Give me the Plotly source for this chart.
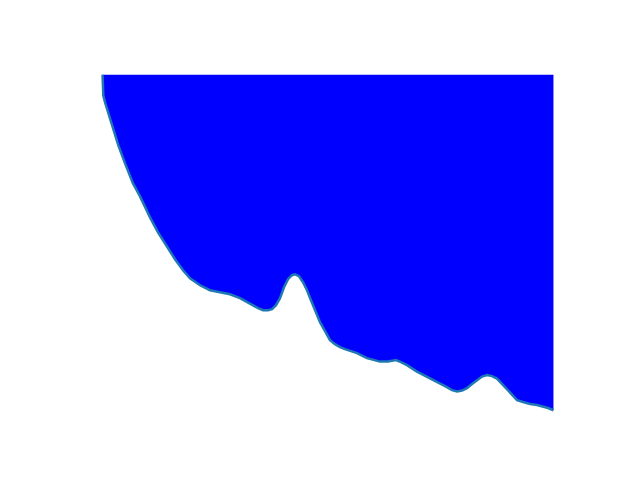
import plotly.graph_objects as go

two_theta = [10.00, 10.12, 10.39, 10.90, 11.68, 12.45, 13.49, 14.73,
             15.82, 17.37, 18.61, 20.01, 21.25, 22.49, 23.58, 25.13, 26.68, 28.24,
             29.79, 31.34, 32.43, 33.36, 34.14, 34.92, 35.69, 36.31, 36.93, 37.55,
             38.17, 38.79, 39.41, 39.88, 40.50, 41.12, 41.74, 42.36, 43.14, 43.76,
             44.54, 45.31, 46.09, 46.86, 47.64, 48.42, 49.50, 51.05, 52.30, 53.07,
             54.31, 55.55, 56.33, 57.26, 58.81, 60.37, 61.92, 63.47, 64.25, 65.03,
             65.80, 66.58, 67.36, 68.13, 68.91, 69.69, 70.46, 71.24, 72.02, 72.79,
             73.57, 74.35, 75.28, 76.37, 77.45, 78.38, 79.16, 80.00]
intensity = [5000, 4752, 4669, 4538, 4336, 4157, 3943, 3705,
             3550, 3300, 3121, 2943, 2800, 2669, 2574, 2490, 2431, 2407,
             2383, 2336, 2288, 2252, 2217, 2193, 2193, 2205, 2252, 2336,
             2467, 2562, 2610, 2621, 2598, 2526, 2431, 2312, 2169, 2050,
             1943, 1836, 1788, 1752, 1729, 1705, 1681, 1621, 1598, 1580,
             1580, 1598, 1574, 1538, 1461, 1401, 1342, 1276, 1240, 1223,
             1235, 1264, 1312, 1360, 1401, 1419, 1407, 1377, 1312, 1240,
             1181, 1121, 1098, 1074, 1062, 1044, 1026, 1000]

ymax = max(intensity)
ymin = min(intensity)
xmin, xmax = min(two_theta), max(two_theta)
xpad = 0.05 * (xmax - xmin)
ypad = 0.05 * (ymax - ymin)

fig = go.Figure()
fig.add_trace(go.Scatter(x=two_theta, y=[ymax] * len(two_theta), mode="lines",
                         line=dict(width=0, color="rgba(0,0,255,0)"),
                         hoverinfo="skip", showlegend=False))
fig.add_trace(go.Scatter(x=two_theta, y=intensity, mode="lines",
                         fill="tonexty", fillcolor="#0000ff",
                         line=dict(color="#1f77b4", width=2.5),
                         showlegend=False))
fig.update_layout(
    width=640, height=480,
    margin=dict(l=80, r=64, t=58, b=53),
    paper_bgcolor="white", plot_bgcolor="white",
    xaxis=dict(visible=False, range=[xmin - xpad, xmax + xpad]),
    yaxis=dict(visible=False, range=[ymin - ypad, ymax + ypad]),
)
fig.write_html("out.html")
